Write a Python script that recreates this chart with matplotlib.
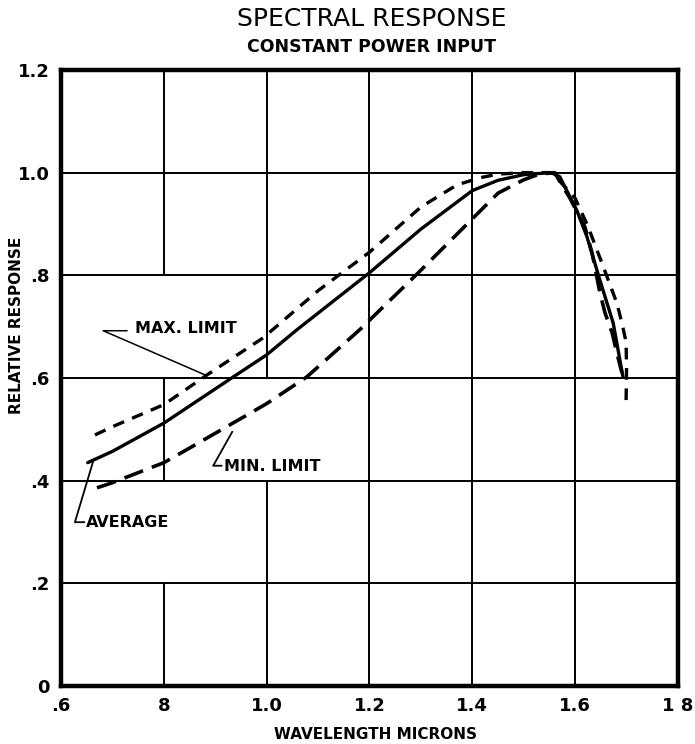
import numpy as np
import matplotlib
matplotlib.use('Agg')
import matplotlib.pyplot as plt

# curve data (wavelength in microns, relative response)
avg_x = [0.652, 0.70, 0.80, 0.935, 1.00, 1.059, 1.20, 1.30, 1.40, 1.45, 1.50, 1.553, 1.57, 1.603, 1.623, 1.648, 1.674, 1.693]
avg_y = [0.435, 0.457, 0.512, 0.602, 0.645, 0.694, 0.805, 0.89, 0.965, 0.985, 0.996, 1.0, 0.992, 0.927, 0.875, 0.791, 0.707, 0.602]

max_x = [0.666, 0.70, 0.80, 0.89, 0.993, 1.10, 1.20, 1.30, 1.37, 1.415, 1.45, 1.50, 1.555, 1.60, 1.625, 1.652, 1.668, 1.681, 1.691, 1.699, 1.700, 1.699]
max_y = [0.489, 0.505, 0.548, 0.61, 0.678, 0.77, 0.845, 0.933, 0.976, 0.99, 0.997, 1.0, 1.0, 0.95, 0.895, 0.824, 0.781, 0.746, 0.707, 0.67, 0.62, 0.55]

min_x = [0.670, 0.70, 0.80, 0.851, 0.962, 1.00, 1.078, 1.181, 1.29, 1.40, 1.45, 1.50, 1.53, 1.56, 1.59, 1.619, 1.633, 1.648, 1.658, 1.672, 1.681, 1.691]
min_y = [0.386, 0.396, 0.435, 0.464, 0.528, 0.55, 0.602, 0.694, 0.80, 0.91, 0.96, 0.986, 0.997, 1.0, 0.95, 0.894, 0.843, 0.767, 0.727, 0.688, 0.649, 0.61]

x_ticks = [0.6, 0.8, 1.0, 1.2, 1.4, 1.6, 1.8]
x_labels = ['.6', '8', '1.0', '1.2', '1.4', '1.6', '1 8']
y_ticks = [0, 0.2, 0.4, 0.6, 0.8, 1.0, 1.2]
y_labels = ['0', '.2', '.4', '.6', '.8', '1.0', '1.2']

fig = plt.figure(figsize=(6.95, 7.44), dpi=100)
ax = fig.add_axes([0.0878, 0.078, 0.8877, 0.828])
ax.set_xlim(0.6, 1.8)
ax.set_ylim(0, 1.2)

# hand-drawn style grid with gaps behind the labels
grid_kw = dict(color='black', linewidth=1.4, zorder=1)
for gy in [0.2, 0.4, 0.6, 0.8, 1.0]:
    ax.hlines(gy, 0.6, 1.8, **grid_kw)
for gx in [1.2, 1.4, 1.6]:
    ax.vlines(gx, 0, 1.2, **grid_kw)
ax.vlines([0.8, 0.8, 0.8], [0.8, 0.4, 0.0], [1.2, 0.6, 0.2], **grid_kw)
ax.vlines([1.0, 1.0], [0.6, 0.0], [1.2, 0.4], **grid_kw)

ax.plot(avg_x, avg_y, color='black', linewidth=2.4, solid_capstyle='round',
        solid_joinstyle='round', zorder=3)
ax.plot(max_x, max_y, color='black', linewidth=2.4, dashes=(3.5, 2.6), zorder=3)
ax.plot(min_x, min_y, color='black', linewidth=2.6, dashes=(5.5, 2.6), zorder=3)

txt = dict(fontsize=11.5, fontweight='bold', family='DejaVu Sans', va='center')
# MAX. LIMIT leader
ax.plot([0.728, 0.682, 0.880], [0.692, 0.692, 0.606], color='black', linewidth=1.1, zorder=3)
ax.text(0.744, 0.697, 'MAX. LIMIT', ha='left', **txt)
# MIN. LIMIT leader
ax.plot([0.912, 0.896, 0.933], [0.429, 0.429, 0.495], color='black', linewidth=1.3, zorder=3)
ax.text(0.917, 0.427, 'MIN. LIMIT', ha='left', **txt)
# AVERAGE leader
ax.plot([0.662, 0.627, 0.645], [0.436, 0.319, 0.319], color='black', linewidth=1.3, zorder=3)
ax.text(0.648, 0.319, 'AVERAGE', ha='left', **txt)

ax.set_xticks(x_ticks)
ax.set_xticklabels(x_labels)
ax.set_yticks(y_ticks)
ax.set_yticklabels(y_labels)
ax.tick_params(length=0, labelsize=13, pad=8)
for lab in ax.get_xticklabels() + ax.get_yticklabels():
    lab.set_fontweight('bold')
for sp in ax.spines.values():
    sp.set_linewidth(3.2)

ax.set_xlabel('WAVELENGTH MICRONS', fontsize=11, fontweight='bold')
ax.xaxis.set_label_coords(0.51, -0.066)
ax.set_ylabel('RELATIVE RESPONSE', fontsize=11, fontweight='bold')
ax.yaxis.set_label_coords(-0.06, 0.586)

fig.text(0.535, 0.975, 'SPECTRAL RESPONSE', ha='center', va='center', fontsize=18)
fig.text(0.535, 0.937, 'CONSTANT POWER INPUT', ha='center', va='center', fontsize=12.5, fontweight='bold')

fig.savefig('out.png', dpi=100)
